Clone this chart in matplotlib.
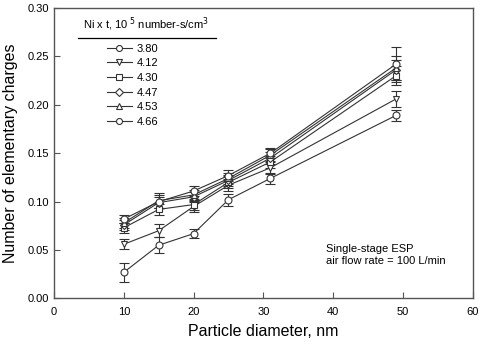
import matplotlib
matplotlib.use("Agg")
import matplotlib.pyplot as plt
from matplotlib.lines import Line2D

plt.rcParams['font.family'] = ['Liberation Sans', 'DejaVu Sans']

diam = [10, 15, 20, 25, 31, 49]
labels = ["3.80", "4.12", "4.30", "4.47", "4.53", "4.66"]
markers = ["o", "v", "s", "D", "^", "o"]
values = [
    [0.027, 0.055, 0.067, 0.102, 0.124, 0.189],
    [0.056, 0.070, 0.095, 0.117, 0.135, 0.206],
    [0.073, 0.092, 0.097, 0.120, 0.141, 0.230],
    [0.076, 0.099, 0.105, 0.122, 0.145, 0.236],
    [0.078, 0.101, 0.107, 0.124, 0.148, 0.238],
    [0.082, 0.100, 0.111, 0.127, 0.150, 0.242],
]
errors = [
    [0.010, 0.008, 0.005, 0.006, 0.006, 0.006],
    [0.005, 0.007, 0.006, 0.006, 0.006, 0.008],
    [0.005, 0.006, 0.006, 0.006, 0.006, 0.010],
    [0.005, 0.006, 0.005, 0.006, 0.006, 0.010],
    [0.005, 0.008, 0.005, 0.006, 0.006, 0.012],
    [0.004, 0.007, 0.005, 0.006, 0.005, 0.018],
]

fig = plt.figure(figsize=(4.81, 3.45), dpi=100)
ax = fig.add_axes([0.1123, 0.1348, 0.8704, 0.842])

line_col = '#333333'
for v, e, m in zip(values, errors, markers):
    ms = 4.2 if m == 'D' else 5.0
    ax.errorbar(diam, v, yerr=e, fmt='-', marker=m, color=line_col, lw=0.8,
                mfc='white', mec=line_col, ms=ms, mew=0.8,
                elinewidth=0.8, capsize=3.5, capthick=0.8, zorder=3)

ax.set_xlim(0, 60)
ax.set_ylim(0, 0.30)
ax.set_xticks([0, 10, 20, 30, 40, 50, 60])
ax.set_yticks([0.00, 0.05, 0.10, 0.15, 0.20, 0.25, 0.30])
ax.yaxis.set_major_formatter(matplotlib.ticker.FormatStrFormatter('%.2f'))
ax.tick_params(direction='in', length=4, labelsize=8, width=0.8, color='#555555',
               top=False, right=False)
ax.tick_params(axis='x', pad=6)
for s in ax.spines.values():
    s.set_color('#555555')
    s.set_linewidth(1.0)

ax.set_xlabel("Particle diameter, nm", fontsize=11.5, labelpad=5)
ax.set_ylabel("Number of elementary charges", fontsize=11.5, labelpad=7)

# legend title with underline
ax.text(0.070, 0.945, "Ni x t, 10$^{\\ 5}$ number-s/cm$^3$", transform=ax.transAxes,
        fontsize=8, ha='left', va='center')
ax.add_line(Line2D([0.057, 0.388], [0.896, 0.896], transform=ax.transAxes,
                   color='black', lw=0.9))

handles = [Line2D([], [], color=line_col, lw=0.8, marker=m, mfc='white', mec=line_col,
                  ms=(3.8 if m == 'D' else 4.3), mew=0.8) for m in markers]
leg = ax.legend(handles, labels, loc='upper left', bbox_to_anchor=(0.115, 0.893),
                frameon=False, fontsize=8, handlelength=2.25, handletextpad=0.45,
                labelspacing=0.42, borderaxespad=0)

ax.text(0.65, 0.15, "Single-stage ESP\nair flow rate = 100 L/min", transform=ax.transAxes,
        fontsize=8, ha='left', va='center', linespacing=1.15)

fig.savefig("out.png", dpi=100)
